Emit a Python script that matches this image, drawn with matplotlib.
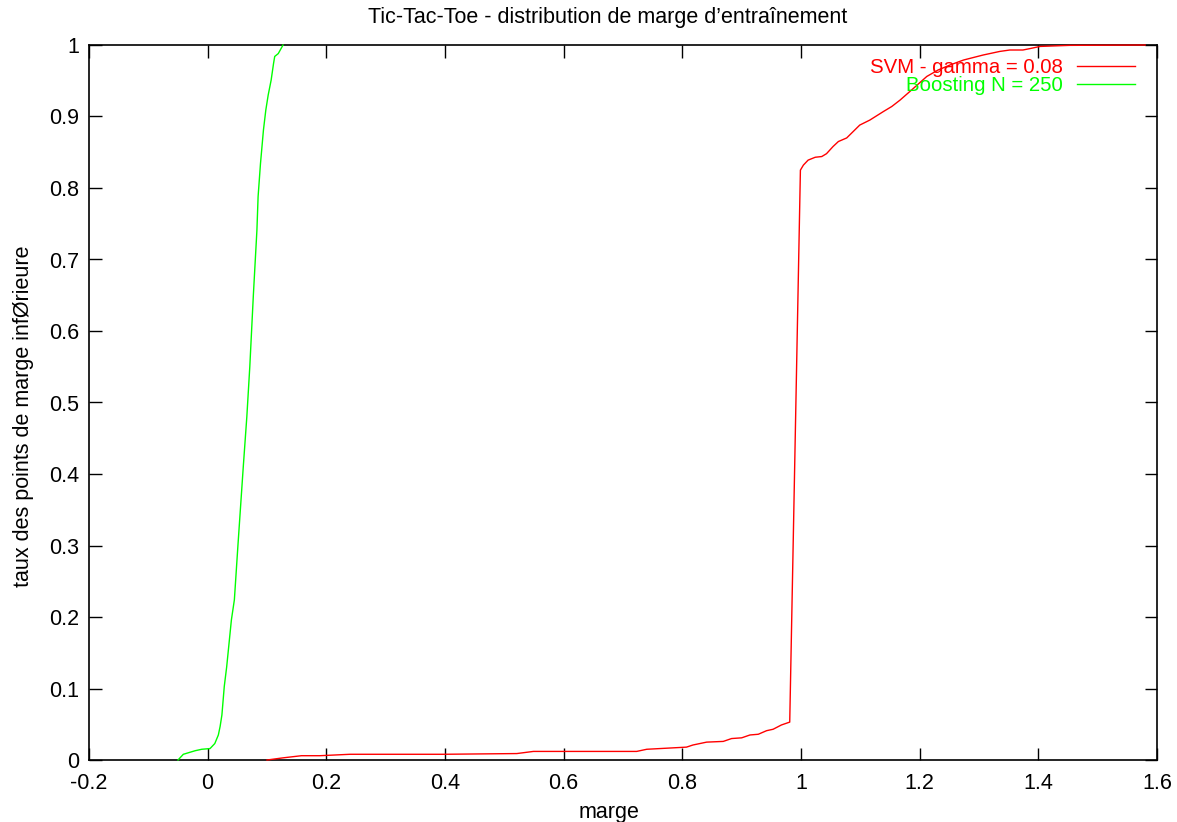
import matplotlib
matplotlib.use("Agg")
import matplotlib.pyplot as plt

# values
svm_marge = [0.100, 0.127, 0.158, 0.189, 0.240, 0.397, 0.521, 0.549, 0.723, 0.740,
             0.807, 0.818, 0.841, 0.869, 0.883, 0.900, 0.914, 0.928, 0.942, 0.953,
             0.967, 0.981, 0.999, 1.004, 1.012, 1.024, 1.035, 1.043, 1.054, 1.063,
             1.077, 1.088, 1.099, 1.116, 1.139, 1.153, 1.167, 1.189, 1.212, 1.231,
             1.251, 1.274, 1.307, 1.335, 1.352, 1.374, 1.386, 1.403, 1.453, 1.580]
svm_taux = [0.000, 0.003, 0.006, 0.006, 0.008, 0.008, 0.009, 0.012, 0.012, 0.015,
            0.018, 0.021, 0.025, 0.026, 0.030, 0.031, 0.035, 0.036, 0.041, 0.043,
            0.049, 0.053, 0.825, 0.832, 0.839, 0.843, 0.844, 0.848, 0.858, 0.865,
            0.870, 0.879, 0.888, 0.895, 0.907, 0.914, 0.923, 0.939, 0.956, 0.965,
            0.972, 0.979, 0.986, 0.991, 0.993, 0.993, 0.995, 0.998, 0.9995, 1.000]

boost_marge = [-0.050, -0.041, -0.021, -0.010, 0.004, 0.012, 0.018, 0.021, 0.024,
               0.028, 0.032, 0.036, 0.040, 0.045, 0.051, 0.060, 0.066, 0.071, 0.077,
               0.083, 0.085, 0.089, 0.094, 0.098, 0.102, 0.107, 0.111, 0.113, 0.119,
               0.127]
boost_taux = [0.000, 0.008, 0.013, 0.015, 0.016, 0.023, 0.035, 0.047, 0.063,
              0.103, 0.130, 0.163, 0.196, 0.224, 0.300, 0.410, 0.480, 0.550, 0.650,
              0.741, 0.788, 0.834, 0.881, 0.909, 0.930, 0.951, 0.974, 0.984, 0.988,
              1.000]

x_ticks = [-0.2, 0, 0.2, 0.4, 0.6, 0.8, 1, 1.2, 1.4, 1.6]
y_ticks = [0, 0.1, 0.2, 0.3, 0.4, 0.5, 0.6, 0.7, 0.8, 0.9, 1]

plt.rcParams["font.family"] = ["Liberation Sans", "DejaVu Sans"]
FS = 15.5
LEG_FS = 14.7

fig = plt.figure(figsize=(11.77, 8.22), dpi=100)
ax = fig.add_axes([89 / 1177, 62 / 822, (1157 - 89) / 1177, (760 - 45) / 822])

ax.plot(svm_marge, svm_taux, color="#ff0000", lw=1.0, clip_on=False, zorder=3,
        label="SVM - gamma = 0.08")
ax.plot(boost_marge, boost_taux, color="#00ff00", lw=1.0, clip_on=False, zorder=3,
        label="Boosting N = 250")

ax.set_xlim(-0.2, 1.6)
ax.set_ylim(0, 1)
ax.set_xticks(x_ticks)
ax.set_yticks(y_ticks)
ax.set_xticklabels([f"{v:g}" for v in x_ticks])
ax.set_yticklabels([f"{v:g}" for v in y_ticks])
ax.tick_params(direction="in", length=9, width=1, top=True, right=True,
               labelsize=FS, color="black")
ax.tick_params(axis="x", pad=9)
ax.tick_params(axis="y", pad=7)
for s in ax.spines.values():
    s.set_linewidth(1.2)

# gnuplot centres its labels slightly off the axes middle
ax.set_title("Tic-Tac-Toe - distribution de marge d\u2019entra\u00eenement",
             fontsize=FS, pad=16, x=(608 - 89) / 1068)
ax.set_xlabel("marge", fontsize=FS, labelpad=6)
ax.xaxis.label.set_x((609 - 89) / 1068)
ax.set_ylabel("taux des points de marge inf\u00d8rieure", fontsize=FS, labelpad=11)
ax.yaxis.label.set_y((760 - 416) / 715)

ax.legend(loc="upper right", bbox_to_anchor=(1 - 14 / 1068, 1 - 5 / 715),
          borderaxespad=0, frameon=False, markerfirst=False, fontsize=LEG_FS,
          handlelength=2.84, handletextpad=0.69, labelspacing=-0.05,
          labelcolor="linecolor")

fig.savefig("out.png", dpi=100)
